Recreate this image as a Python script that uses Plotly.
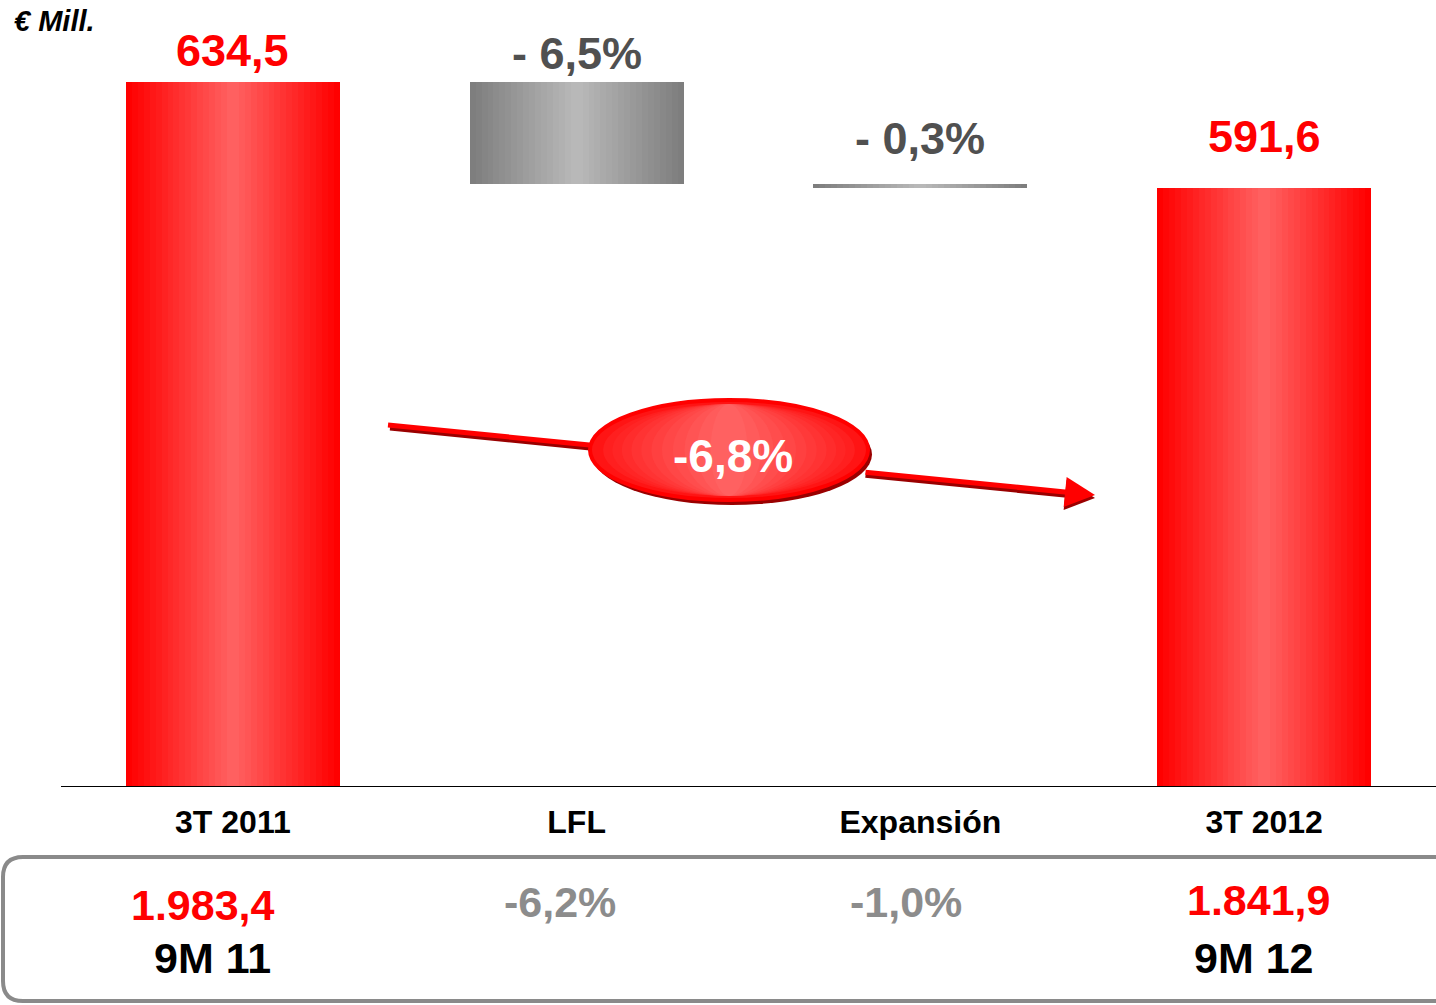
import plotly.graph_objects as go

# ---------------- data ----------------
categories = ["3T 2011", "LFL", "Expansión", "3T 2012"]
start_value = 634.5
lfl_change = -41.2
expansion_change = -1.7
end_value = 591.6
top_labels = ["634,5", "- 6,5%", "- 0,3%", "591,6"]
total_change_label = "-6,8%"
ytd_values = ["1.983,4", "-6,2%", "-1,0%", "1.841,9"]
ytd_periods = ["9M 11", "", "", "9M 12"]
unit_label = "€ Mill."

# ---------------- styling ----------------
W, H = 1436, 1005
ML, MT, MB = 61, 0, 219
PW, PH = W - ML, H - MT - MB
FONT = "Liberation Sans Narrow, Liberation Sans, Arial, sans-serif"
FONT_WIDE = "Liberation Sans, Arial, sans-serif"
RED = "#ff0000"
DARKRED = "#9a0000"


def px(x):
    return (x - ML) / PW


def py(y):
    return (MT + PH - y) / PH


bases = [0, start_value + lfl_change, start_value + lfl_change + expansion_change, 0]
heights = [start_value, -lfl_change, -expansion_change, end_value]
is_total = [True, False, False, True]
tops = [b + h for b, h in zip(bases, heights)]

fig = go.Figure()

# gradient bars: overlaid bars of decreasing width, lighter towards center
N = 18
bar_w = 0.622
red_edge, red_center = (255, 0, 0), (255, 96, 96)
gray_edge, gray_center = (126, 126, 126), (184, 184, 184)


def mix(a, b, t):
    return "rgb(%d,%d,%d)" % tuple(round(a[i] + (b[i] - a[i]) * t) for i in range(3))


for k in range(N):
    t = k / (N - 1)
    cols = [mix(red_edge, red_center, t) if tot else mix(gray_edge, gray_center, t) for tot in is_total]
    fig.add_trace(go.Bar(
        x=list(range(len(categories))), y=heights, base=bases,
        width=bar_w * (1 - k / N),
        marker=dict(color=cols, line=dict(width=0)),
        showlegend=False, hoverinfo="skip",
    ))

# labels above bars
label_colors = [RED if tot else "#505050" for tot in is_total]
label_offsets = [32, 29, 45, 52]
for i, (lab, top) in enumerate(zip(top_labels, tops)):
    fig.add_annotation(x=i, y=top, xref="x", yref="y", text="<b>%s</b>" % lab,
                       showarrow=False, yanchor="middle", yshift=label_offsets[i],
                       font=dict(family=FONT, size=45, color=label_colors[i]))

# shapes: arrow left part (shadow + line), ellipse
shapes = []
shapes.append(dict(type="line", xref="paper", yref="paper",
                   x0=px(390), y0=py(428), x1=px(620), y1=py(451),
                   line=dict(color=DARKRED, width=5)))
shapes.append(dict(type="line", xref="paper", yref="paper",
                   x0=px(388), y0=py(425), x1=px(620), y1=py(448),
                   line=dict(color=RED, width=5)))
# ellipse shadow
shapes.append(dict(type="circle", xref="paper", yref="paper",
                   x0=px(592), x1=px(872), y0=py(404), y1=py(505),
                   fillcolor=DARKRED, line=dict(width=0)))
# ellipse outline
shapes.append(dict(type="circle", xref="paper", yref="paper",
                   x0=px(590), x1=px(868), y0=py(400), y1=py(500),
                   fillcolor="rgb(255,20,20)", line=dict(color=RED, width=4)))
# ellipse body with a soft horizontal gradient
NE = 12
for j in range(1, NE):
    f = j / NE
    half = 135 * (1 - f) ** 0.8
    c = mix((255, 24, 24), (255, 104, 104), f)
    shapes.append(dict(type="circle", xref="paper", yref="paper",
                       x0=px(729 - half), x1=px(729 + half), y0=py(404), y1=py(496),
                       fillcolor=c, line=dict(width=0)))

# bottom rounded box
r_x, r_y = 20, 20
bx0, bx1, by0, by1 = 3, 1460, 857, 1001
path = "M {a} {b} L {c} {b} Q {d} {b} {d} {e} L {d} {f} Q {d} {g} {c} {g} L {a} {g}".format(
    a=px(bx1), b=py(by0), c=px(bx0 + r_x), d=px(bx0), e=py(by0 + r_y), f=py(by1 - r_y), g=py(by1))
shapes.append(dict(type="path", xref="paper", yref="paper", path=path,
                   line=dict(color="#8a8a8a", width=4)))

fig.update_layout(shapes=shapes)

# arrow right part (shadow + arrow)
fig.add_annotation(xref="paper", yref="paper", x=px(1095), y=py(498), ax=-231, ay=-23,
                   axref="pixel", ayref="pixel", text="", showarrow=True,
                   arrowhead=2, arrowsize=1.2, arrowwidth=5, arrowcolor=DARKRED)
fig.add_annotation(xref="paper", yref="paper", x=px(1095), y=py(495), ax=-231, ay=-23,
                   axref="pixel", ayref="pixel", text="", showarrow=True,
                   arrowhead=2, arrowsize=1.2, arrowwidth=5, arrowcolor=RED)

# ellipse label
fig.add_annotation(xref="paper", yref="paper", x=px(733), y=py(456), xanchor="center", yanchor="middle",
                   text="<b>%s</b>" % total_change_label,
                   showarrow=False, font=dict(family=FONT, size=46, color="white"))

# unit label
fig.add_annotation(xref="paper", yref="paper", x=px(12), y=py(21), xanchor="left", yanchor="middle",
                   text="<b><i>%s</i></b>" % unit_label,
                   showarrow=False, font=dict(family=FONT_WIDE, size=29, color="black"))

# bottom YTD values
ytd_colors = [RED, "#8c8c8c", "#8c8c8c", RED]
ytd_xshift = [-30, -17, -14, -6]
ytd_y = [905, 902, 902, 900]
period_xshift = [-20, 0, 0, -10]
for i in range(len(categories)):
    fig.add_annotation(x=i, xref="x", yref="paper", y=py(ytd_y[i]), yanchor="middle",
                       text="<b>%s</b>" % ytd_values[i],
                       xshift=ytd_xshift[i], showarrow=False,
                       font=dict(family=FONT, size=43, color=ytd_colors[i]))
    if ytd_periods[i]:
        fig.add_annotation(x=i, xref="x", yref="paper", y=py(958), yanchor="middle",
                           text="<b>%s</b>" % ytd_periods[i],
                           xshift=period_xshift[i], showarrow=False,
                           font=dict(family=FONT, size=43, color="black"))

fig.update_layout(
    width=W, height=H, autosize=False,
    margin=dict(l=ML, r=0, t=MT, b=MB, pad=0),
    barmode="overlay", bargap=0,
    plot_bgcolor="white", paper_bgcolor="white",
    showlegend=False,
    xaxis=dict(range=[-0.5, 3.5], tickvals=list(range(len(categories))),
               ticktext=["<b>%s</b>" % c for c in categories],
               tickfont=dict(family=FONT_WIDE, size=32, color="black"),
               ticklabelstandoff=8,
               showline=True, linecolor="black", linewidth=1, ticks="",
               showgrid=False, zeroline=False, fixedrange=True),
    yaxis=dict(range=[349.6, 667.7], visible=False, showgrid=False, zeroline=False, fixedrange=True),
)

fig.write_html("out.html", post_script="document.body.style.margin='0';",
               config={"displayModeBar": False})
